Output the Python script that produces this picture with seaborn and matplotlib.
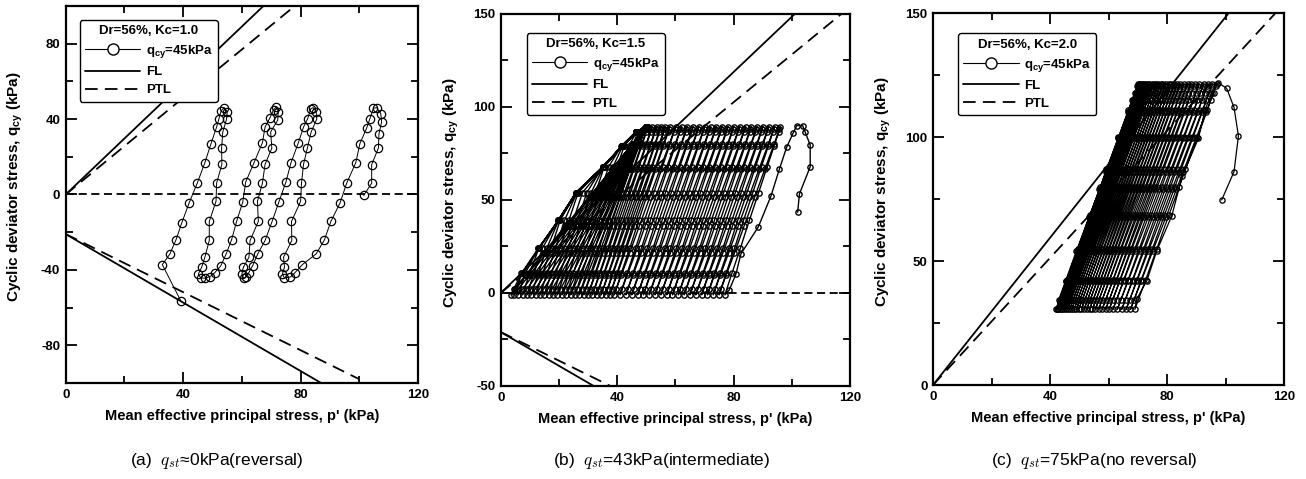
import matplotlib
matplotlib.use("Agg")
import matplotlib.pyplot as plt
import seaborn as sns
from matplotlib.lines import Line2D
from matplotlib.ticker import MultipleLocator
from matplotlib import font_manager

# ---------------- data ----------------
# reference lines (two end points each)
fl_up_p, fl_up_q = [0, 101], [0, 150]
ptl_up_p, ptl_up_q = [0, 117], [0, 150]
fl_lo_p, fl_lo_q = [0, 87], [-21, -100]
ptl_lo_p, ptl_lo_q = [0, 100], [-21, -98]

# panel (a): q_st = 0 kPa, stress path in time order
a_p = [101.5, 104.2, 104.2, 106.5, 106.7, 107.6, 107.3, 105.9,
       104.8, 103.6, 102.5, 100.2, 98.8, 95.7, 93.4, 90.3, 88.1, 85.3, 80.6, 78.0, 76.5, 74.5,
       73.8, 74.5, 74.2, 77.0, 76.9, 80.0, 80.3, 81.0, 82.3, 83.6, 85.5, 85.3, 84.3,
       83.5, 82.4, 81.0, 79.2, 76.7, 75.0, 72.6, 70.2, 67.9, 65.4, 63.7, 62.3, 61.5, 60.6,
       60.0, 60.5, 62.4, 62.8, 65.6, 65.3, 67.0, 67.9, 70.2, 69.8, 72.2, 72.4, 71.6,
       70.8, 69.6, 67.9, 67.0, 64.1, 61.3, 60.3, 58.2, 56.5, 54.6, 52.8, 50.7, 49.1, 47.4, 46.0,
       45.2, 46.3, 47.4, 48.9, 48.9, 51.2, 51.4, 53.2, 53.1, 53.5, 54.8, 55.0, 54.0,
       53.0, 52.2, 51.4, 49.5, 47.4, 44.8, 42.0, 39.5, 37.6, 35.5, 32.9, 39.2]
a_q = [-0.5, 6.0, 15.8, 24.7, 32.3, 38.5, 42.9, 46.1,
       45.7, 40.2, 35.3, 27.0, 16.9, 6.0, -4.6, -14.3, -24.1, -31.5, -37.2, -41.6, -43.8, -44.3,
       -42.2, -38.6, -33.3, -24.4, -14.3, -3.6, 6.0, 16.0, 24.6, 33.2, 40.0, 44.0, 46.1,
       45.5, 40.2, 35.8, 27.3, 16.7, 6.6, -4.0, -14.7, -24.4, -31.5, -37.7, -41.6, -43.6, -44.4,
       -42.2, -38.6, -33.3, -24.4, -14.3, -3.6, 6.0, 16.0, 24.6, 33.2, 39.4, 44.0, 46.3,
       45.0, 40.8, 35.8, 27.5, 16.7, 6.6, -4.0, -14.3, -24.0, -31.7, -37.9, -41.6, -43.6, -44.4, -44.3,
       -42.2, -38.6, -33.3, -24.4, -14.3, -3.6, 6.0, 16.0, 24.6, 33.2, 40.0, 44.0, 46.1,
       44.5, 40.2, 35.8, 27.0, 16.9, 6.0, -4.6, -15.2, -23.9, -31.5, -37.2, -56.4]

# panel (b): q_st = 43 kPa (first loading, then one row per cycle)
b_init_p = [102.0, 102.6, 106.3, 106.3, 104.5, 103.7, 101.7, 100.5, 98.2, 95.7, 92.8, 88.5, 82.5, 80.8, 78.5]
b_init_q = [43.4, 53.2, 67.9, 79.6, 86.7, 90.0, 90.0, 86.2, 78.3, 66.5, 52.0, 35.6, 21.0, 10.2, 1.6]
b_up_q = [-1, 10.5, 24, 39, 54, 68, 79, 86.5, 89.5]
b_dn_q = [88, 80, 66.5, 51.5, 36, 21.5, 9.5, 2]
b_up_p = [
    [77.0, 79.4, 82.3, 85.4, 88.6, 91.6, 93.9, 95.5, 96.1],
    [75.0, 77.4, 80.3, 83.4, 86.6, 89.6, 91.9, 93.5, 94.1],
    [73.0, 75.4, 78.3, 81.4, 84.6, 87.6, 89.9, 91.5, 92.1],
    [71.0, 73.4, 76.3, 79.4, 82.6, 85.6, 87.9, 89.5, 90.1],
    [69.0, 71.4, 74.3, 77.4, 80.6, 83.6, 85.9, 87.5, 88.1],
    [67.0, 69.4, 72.3, 75.4, 78.6, 81.6, 83.9, 85.5, 86.1],
    [65.0, 67.4, 70.3, 73.4, 76.6, 79.6, 81.9, 83.5, 84.1],
    [63.0, 65.4, 68.3, 71.4, 74.6, 77.6, 79.9, 81.5, 82.1],
    [61.0, 63.4, 66.3, 69.4, 72.6, 75.6, 77.9, 79.5, 80.1],
    [59.0, 61.4, 64.3, 67.4, 70.6, 73.6, 75.9, 77.5, 78.1],
    [57.0, 59.4, 62.3, 65.4, 68.6, 71.6, 73.9, 75.5, 76.1],
    [55.0, 57.4, 60.3, 63.4, 66.6, 69.6, 71.9, 73.5, 74.1],
    [53.0, 55.4, 58.3, 61.4, 64.6, 67.6, 69.9, 71.5, 72.1],
    [51.0, 53.4, 56.3, 59.4, 62.6, 65.6, 67.9, 69.5, 70.1],
    [49.0, 51.4, 54.3, 57.4, 60.6, 63.6, 65.9, 67.5, 68.1],
    [47.0, 49.4, 52.3, 55.4, 58.6, 61.6, 63.9, 65.5, 66.1],
    [45.0, 47.4, 50.3, 53.4, 56.6, 59.6, 61.9, 63.5, 64.1],
    [43.0, 45.4, 48.3, 51.4, 54.6, 57.6, 59.9, 61.5, 62.1],
    [41.0, 43.4, 46.3, 49.4, 52.6, 55.6, 57.9, 59.5, 60.1],
    [39.0, 41.4, 44.3, 47.4, 50.6, 53.6, 55.9, 57.5, 58.1],
    [37.5, 39.9, 42.8, 45.9, 49.1, 52.1, 54.4, 56.0, 56.6],
    [36.0, 38.4, 41.3, 44.4, 47.6, 50.6, 52.9, 54.5, 55.1],
    [34.5, 36.9, 39.8, 42.9, 46.1, 49.1, 51.4, 53.0, 53.6],
    [33.0, 35.4, 38.3, 41.4, 44.6, 47.6, 49.9, 51.5, 52.1],
    [31.5, 33.9, 36.8, 39.9, 43.1, 46.1, 48.4, 50.0, 50.6],
    [30.0, 32.4, 35.3, 38.4, 41.6, 44.6, 46.9, 48.5, 50.0],
    [28.5, 30.9, 33.8, 36.9, 40.1, 43.1, 45.4, 47.0, 49.8],
    [27.0, 29.4, 32.3, 35.4, 38.6, 41.6, 43.9, 46.7, 50.2],
    [25.5, 27.9, 30.8, 33.9, 37.1, 40.1, 42.4, 46.3, 49.9],
    [24.0, 26.4, 29.3, 32.4, 35.6, 38.6, 41.9, 46.6, 50.1],
    [22.5, 24.9, 27.8, 30.9, 34.1, 37.1, 41.5, 46.4, 49.8],
    [21.0, 23.4, 26.3, 29.4, 32.6, 35.6, 41.8, 46.7, 50.2],
    [19.5, 21.9, 24.8, 27.9, 31.1, 35.4, 41.4, 46.3, 49.9],
    [18.0, 20.4, 23.3, 26.4, 29.6, 35.1, 41.9, 46.6, 50.1],
    [16.5, 18.9, 21.8, 24.9, 28.1, 35.5, 41.6, 46.5, 49.8],
    [15.0, 17.4, 20.3, 23.4, 26.6, 35.2, 41.7, 46.4, 50.2],
    [13.5, 15.9, 18.8, 21.9, 26.2, 35.4, 41.5, 46.7, 49.9],
    [12.0, 14.4, 17.3, 20.4, 25.9, 35.1, 41.8, 46.3, 50.1],
    [10.5, 12.9, 15.8, 19.9, 26.1, 35.5, 41.6, 46.6, 49.8],
    [9.0, 11.4, 14.3, 19.7, 25.8, 35.2, 41.9, 46.4, 50.0],
    [7.5, 9.9, 13.1, 20.0, 26.2, 35.4, 41.5, 46.5, 50.2],
    [6.0, 8.4, 12.9, 19.8, 25.9, 35.3, 41.7, 46.6, 49.9],
    [4.5, 7.3, 13.2, 19.6, 26.1, 35.1, 41.6, 46.4, 50.1],
    [3.5, 7.1, 12.9, 19.9, 25.8, 35.4, 41.8, 46.5, 49.8],
]
b_dn_p = [
    [95.7, 93.9, 90.7, 87.2, 83.6, 80.3, 77.4, 75.7],
    [93.7, 91.9, 88.7, 85.2, 81.6, 78.3, 75.4, 73.7],
    [91.7, 89.9, 86.7, 83.2, 79.6, 76.3, 73.4, 71.7],
    [89.7, 87.9, 84.7, 81.2, 77.6, 74.3, 71.4, 69.7],
    [87.7, 85.9, 82.7, 79.2, 75.6, 72.3, 69.4, 67.7],
    [85.7, 83.9, 80.7, 77.2, 73.6, 70.3, 67.4, 65.7],
    [83.7, 81.9, 78.7, 75.2, 71.6, 68.3, 65.4, 63.7],
    [81.7, 79.9, 76.7, 73.2, 69.6, 66.3, 63.4, 61.7],
    [79.7, 77.9, 74.7, 71.2, 67.6, 64.3, 61.4, 59.7],
    [77.7, 75.9, 72.7, 69.2, 65.6, 62.3, 59.4, 57.7],
    [75.7, 73.9, 70.7, 67.2, 63.6, 60.3, 57.4, 55.7],
    [73.7, 71.9, 68.7, 65.2, 61.6, 58.3, 55.4, 53.7],
    [71.7, 69.9, 66.7, 63.2, 59.6, 56.3, 53.4, 51.7],
    [69.7, 67.9, 64.7, 61.2, 57.6, 54.3, 51.4, 49.7],
    [67.7, 65.9, 62.7, 59.2, 55.6, 52.3, 49.4, 47.7],
    [65.7, 63.9, 60.7, 57.2, 53.6, 50.3, 47.4, 45.7],
    [63.7, 61.9, 58.7, 55.2, 51.6, 48.3, 45.4, 43.7],
    [61.7, 59.9, 56.7, 53.2, 49.6, 46.3, 43.4, 41.7],
    [59.7, 57.9, 54.7, 51.2, 47.6, 44.3, 41.4, 39.7],
    [57.7, 55.9, 52.9, 49.4, 45.9, 42.6, 39.9, 38.2],
    [56.2, 54.4, 51.4, 47.9, 44.4, 41.1, 38.4, 36.7],
    [54.7, 52.9, 49.9, 46.4, 42.9, 39.6, 36.9, 35.2],
    [53.2, 51.4, 48.4, 44.9, 41.4, 38.1, 35.4, 33.7],
    [51.7, 49.9, 46.9, 43.4, 39.9, 36.6, 33.9, 32.2],
    [50.2, 48.4, 45.4, 41.9, 38.4, 35.1, 32.4, 30.7],
    [49.6, 47.7, 44.5, 41.0, 37.3, 33.9, 31.0, 29.2],
    [49.6, 47.6, 44.2, 40.3, 36.4, 32.7, 29.7, 27.8],
    [49.6, 47.4, 43.8, 39.7, 35.5, 31.6, 28.3, 26.3],
    [49.6, 47.3, 43.4, 39.1, 34.6, 30.5, 27.0, 24.9],
    [49.5, 47.1, 43.0, 38.5, 33.8, 29.4, 25.7, 23.4],
    [49.5, 47.0, 42.6, 37.8, 32.9, 28.2, 24.4, 22.0],
    [49.5, 46.8, 42.3, 37.2, 32.0, 27.1, 23.0, 20.5],
    [49.5, 46.6, 41.9, 36.6, 31.1, 26.0, 21.7, 19.1],
    [49.4, 46.5, 41.5, 35.9, 30.2, 24.8, 20.4, 17.6],
    [49.4, 46.3, 41.1, 35.3, 29.3, 23.7, 19.1, 16.2],
    [49.4, 46.2, 40.7, 34.7, 28.4, 22.6, 17.7, 14.7],
    [49.4, 46.0, 40.4, 34.0, 27.5, 21.5, 16.4, 13.3],
    [49.3, 45.9, 40.0, 33.4, 26.7, 20.3, 15.1, 11.8],
    [49.3, 45.7, 39.6, 32.8, 25.8, 19.2, 13.8, 10.4],
    [49.3, 45.5, 39.2, 32.2, 24.9, 18.1, 12.4, 8.9],
    [49.3, 45.4, 38.8, 31.5, 24.0, 17.0, 11.1, 7.5],
    [49.2, 45.2, 38.4, 30.9, 23.1, 15.8, 9.8, 6.0],
    [49.2, 45.1, 38.2, 30.5, 22.5, 15.1, 8.9, 5.0],
    [49.2, 45.1, 38.1, 30.3, 22.2, 14.7, 8.5, 4.6],
]

# panel (c): q_st = 75 kPa
c_init_p = [98.7, 102.9, 104.4, 102.9, 100.4, 97.5, 95.3, 93.0, 90.7, 85.2, 81.6, 76.5, 73.1, 69.6]
c_init_q = [74.7, 86.1, 100.5, 112.0, 119.7, 122.0, 118.0, 111.0, 99.5, 84.3, 68.2, 54.2, 42.1, 34.6]
c_up_q = [30.5, 42.5, 55, 68.5, 80, 87, 100, 111, 118, 121.5]
c_dn_q = [120.5, 115, 110, 99.5, 86, 79, 68, 54, 42, 34.5]
c_up_p = [
    [69.0, 72.7, 76.5, 80.6, 84.2, 86.3, 90.4, 93.8, 95.9, 97.0],
    [67.5, 71.2, 75.0, 79.1, 82.7, 84.8, 88.9, 92.3, 94.4, 95.5],
    [66.0, 69.7, 73.5, 77.6, 81.2, 83.3, 87.4, 90.8, 92.9, 94.0],
    [64.5, 68.2, 72.0, 76.1, 79.7, 81.8, 85.9, 89.3, 91.4, 92.5],
    [63.0, 66.7, 70.5, 74.6, 78.2, 80.3, 84.4, 87.8, 89.9, 91.0],
    [61.5, 65.2, 69.0, 73.1, 76.7, 78.8, 82.9, 86.3, 88.4, 89.5],
    [60.2, 63.9, 67.7, 71.8, 75.4, 77.5, 81.6, 85.0, 87.1, 88.2],
    [59.0, 62.7, 66.5, 70.6, 74.2, 76.3, 80.4, 83.8, 85.9, 87.0],
    [57.8, 61.5, 65.3, 69.4, 73.0, 75.1, 79.2, 82.6, 84.7, 85.8],
    [56.6, 60.3, 64.1, 68.2, 71.8, 73.9, 78.0, 81.4, 83.5, 84.6],
    [55.5, 59.2, 63.0, 67.1, 70.7, 72.8, 76.9, 80.3, 82.4, 83.5],
    [54.5, 58.2, 62.0, 66.1, 69.7, 71.8, 75.9, 79.3, 81.4, 82.5],
    [53.5, 57.2, 61.0, 65.1, 68.7, 70.8, 74.9, 78.3, 80.4, 81.5],
    [52.5, 56.2, 60.0, 64.1, 67.7, 69.8, 73.9, 77.3, 79.4, 80.5],
    [51.6, 55.3, 59.1, 63.2, 66.8, 68.9, 73.0, 76.4, 78.5, 79.6],
    [50.7, 54.4, 58.2, 62.3, 65.9, 68.0, 72.1, 75.5, 77.6, 78.7],
    [49.8, 53.5, 57.3, 61.4, 65.0, 67.1, 71.2, 74.6, 76.7, 77.8],
    [49.0, 52.7, 56.5, 60.6, 64.2, 66.3, 70.4, 73.8, 75.9, 77.0],
    [48.2, 51.9, 55.7, 59.8, 63.4, 65.5, 69.6, 73.0, 75.1, 76.2],
    [47.4, 51.1, 54.9, 59.0, 62.6, 64.7, 68.8, 72.2, 74.3, 75.4],
    [46.7, 50.4, 54.2, 58.3, 61.9, 64.0, 68.1, 71.5, 73.6, 74.7],
    [46.0, 49.7, 53.5, 57.6, 61.2, 63.3, 67.4, 70.8, 72.9, 74.0],
    [45.4, 49.1, 52.9, 57.0, 60.6, 62.7, 66.8, 70.2, 72.3, 73.4],
    [44.8, 48.5, 52.3, 56.4, 60.0, 62.1, 66.2, 69.6, 71.7, 72.8],
    [44.2, 47.9, 51.7, 55.8, 59.4, 61.5, 65.6, 69.0, 71.1, 72.2],
    [43.7, 47.4, 51.2, 55.3, 58.9, 61.0, 65.1, 68.5, 70.6, 71.7],
    [43.2, 46.9, 50.7, 54.8, 58.4, 60.5, 64.6, 68.0, 70.1, 71.2],
    [42.8, 46.5, 50.3, 54.4, 58.0, 60.1, 64.2, 67.6, 69.7, 70.8],
    [42.4, 46.1, 49.9, 54.0, 57.6, 59.7, 63.8, 67.2, 69.3, 70.4],
    [42.0, 45.7, 49.5, 53.6, 57.2, 59.3, 63.4, 66.8, 68.9, 70.0],
]
c_dn_p = [
    [96.7, 94.9, 93.3, 89.9, 85.5, 83.2, 79.7, 75.1, 71.2, 68.8],
    [95.2, 93.4, 91.8, 88.4, 84.0, 81.7, 78.2, 73.6, 69.7, 67.3],
    [93.7, 91.9, 90.3, 86.9, 82.5, 80.2, 76.7, 72.1, 68.2, 65.8],
    [92.2, 90.4, 88.8, 85.4, 81.0, 78.7, 75.2, 70.6, 66.7, 64.3],
    [90.7, 88.9, 87.3, 83.9, 79.5, 77.2, 73.7, 69.1, 65.2, 62.8],
    [89.1, 87.3, 85.7, 82.3, 78.0, 75.8, 72.2, 67.7, 63.9, 61.5],
    [87.9, 86.1, 84.5, 81.1, 76.8, 74.6, 71.0, 66.5, 62.7, 60.3],
    [86.7, 84.9, 83.3, 79.9, 75.6, 73.4, 69.8, 65.3, 61.5, 59.1],
    [85.5, 83.7, 82.1, 78.7, 74.4, 72.2, 68.6, 64.1, 60.3, 57.9],
    [84.2, 82.4, 80.8, 77.5, 73.2, 71.0, 67.4, 63.0, 59.2, 56.8],
    [83.2, 81.4, 79.8, 76.5, 72.2, 70.0, 66.4, 62.0, 58.2, 55.8],
    [82.2, 80.4, 78.8, 75.5, 71.2, 69.0, 65.4, 61.0, 57.2, 54.8],
    [81.2, 79.4, 77.8, 74.5, 70.2, 68.0, 64.4, 60.0, 56.2, 53.8],
    [80.1, 78.4, 76.8, 73.5, 69.2, 67.0, 63.5, 59.0, 55.2, 52.9],
    [79.2, 77.5, 75.9, 72.6, 68.3, 66.1, 62.6, 58.1, 54.3, 52.0],
    [78.3, 76.6, 75.0, 71.7, 67.4, 65.2, 61.7, 57.2, 53.4, 51.1],
    [77.5, 75.8, 74.2, 70.9, 66.6, 64.4, 60.9, 56.4, 52.6, 50.3],
    [76.7, 75.0, 73.4, 70.1, 65.8, 63.6, 60.1, 55.6, 51.8, 49.5],
    [75.9, 74.2, 72.6, 69.3, 65.0, 62.8, 59.3, 54.8, 51.0, 48.7],
    [75.0, 73.3, 71.7, 68.4, 64.2, 62.0, 58.5, 54.1, 50.3, 48.0],
    [74.3, 72.6, 71.0, 67.7, 63.5, 61.3, 57.8, 53.4, 49.6, 47.3],
    [73.7, 72.0, 70.4, 67.1, 62.9, 60.7, 57.2, 52.8, 49.0, 46.7],
    [73.1, 71.4, 69.8, 66.5, 62.3, 60.1, 56.6, 52.2, 48.4, 46.1],
    [72.5, 70.8, 69.2, 65.9, 61.7, 59.5, 56.0, 51.6, 47.8, 45.5],
    [71.9, 70.1, 68.6, 65.3, 61.1, 58.9, 55.4, 51.0, 47.3, 45.0],
    [71.4, 69.6, 68.1, 64.8, 60.6, 58.4, 54.9, 50.5, 46.8, 44.5],
    [71.0, 69.2, 67.7, 64.4, 60.2, 58.0, 54.5, 50.1, 46.4, 44.1],
    [70.6, 68.8, 67.3, 64.0, 59.8, 57.6, 54.1, 49.7, 46.0, 43.7],
    [70.2, 68.4, 66.9, 63.6, 59.4, 57.2, 53.7, 49.3, 45.6, 43.3],
    [69.9, 68.1, 66.6, 63.3, 59.1, 56.9, 53.4, 49.0, 45.3, 43.0],
]

legend_titles = ["Dr=56%, Kc=1.0", "Dr=56%, Kc=1.5", "Dr=56%, Kc=2.0"]
legend_labels = [r"q$_{\mathbf{cy}}$=45kPa", "FL", "PTL"]
captions = ["(a)  $q_{st}$≈0kPa(reversal)",
            "(b)  $q_{st}$=43kPa(intermediate)",
            "(c)  $q_{st}$=75kPa(no reversal)"]
xlabel = "Mean effective principal stress, p' (kPa)"
ylabel = r"Cyclic deviator stress, q$_{\mathbf{cy}}$ (kPa)"

# ---------------- style ----------------
sns.set_theme(style="ticks")
names = {f.name for f in font_manager.fontManager.ttflist}
FONT = "Liberation Sans" if "Liberation Sans" in names else "DejaVu Sans"
plt.rcParams.update({
    "font.family": [FONT, "DejaVu Sans"],
    "font.weight": "bold",
    "mathtext.fontset": "custom",
    "mathtext.rm": FONT,
    "mathtext.bf": FONT + ":bold",
    "mathtext.it": FONT + ":italic",
    "axes.edgecolor": "black",
    "axes.labelcolor": "black",
    "text.color": "black",
    "xtick.color": "black",
    "ytick.color": "black",
    "axes.unicode_minus": False,
})


def assemble(init_p, init_q, up_q, dn_q, up_p, dn_p):
    P, Q = list(init_p), list(init_q)
    for u, d in zip(up_p, dn_p):
        P += u
        Q += up_q
        P += d
        Q += dn_q
    return P, Q


b_p, b_q = assemble(b_init_p, b_init_q, b_up_q, b_dn_q, b_up_p, b_dn_p)
c_p, c_q = assemble(c_init_p, c_init_q, c_up_q, c_dn_q, c_up_p, c_dn_p)

fig = plt.figure(figsize=(13.06, 4.79), dpi=100)
positions = [[0.0503, 0.2004, 0.2698, 0.7871],
             [0.3834, 0.1942, 0.2675, 0.7766],
             [0.7144, 0.1962, 0.2688, 0.7760]]
ylims = [(-100, 100), (-50, 150), (0, 150)]
ymaj = [40, 50, 50]
ymin = [20, 25, 25]
leg_anchor = [(0.040, 0.963), (0.074, 0.949), (0.071, 0.946)]
cap_x = [0.166, 0.5065, 0.8377]
series = [(a_p, a_q, 6.0, 0.9, 0.7), (b_p, b_q, 3.8, 1.0, 1.0), (c_p, c_q, 3.8, 0.95, 0.9)]

ptl_dash = (0, (7.0, 4.0))
zero_dash = (0, (4.5, 2.5))

for i in range(3):
    ax = fig.add_axes(positions[i])
    p, q, ms, mew, lw = series[i]
    if i < 2:
        ax.axhline(0, color="black", lw=1.3, ls=zero_dash, zorder=1)
    sns.lineplot(x=p, y=q, sort=False, estimator=None, ax=ax, color="black",
                 linewidth=lw, marker="o", markersize=ms, markerfacecolor="none",
                 markeredgecolor="black", markeredgewidth=mew, legend=False, zorder=3)
    sns.lineplot(x=fl_up_p, y=fl_up_q, sort=False, estimator=None, ax=ax, color="black",
                 linewidth=1.3, legend=False, zorder=2)
    sns.lineplot(x=ptl_up_p, y=ptl_up_q, sort=False, estimator=None, ax=ax, color="black",
                 linewidth=1.3, linestyle=ptl_dash, legend=False, zorder=2)
    sns.lineplot(x=fl_lo_p, y=fl_lo_q, sort=False, estimator=None, ax=ax, color="black",
                 linewidth=1.3, legend=False, zorder=2)
    sns.lineplot(x=ptl_lo_p, y=ptl_lo_q, sort=False, estimator=None, ax=ax, color="black",
                 linewidth=1.3, linestyle=ptl_dash, legend=False, zorder=2)

    ax.set_xlim(0, 120)
    ax.set_ylim(*ylims[i])
    ax.xaxis.set_major_locator(MultipleLocator(40))
    ax.xaxis.set_minor_locator(MultipleLocator(20))
    ax.yaxis.set_major_locator(MultipleLocator(ymaj[i]))
    ax.yaxis.set_minor_locator(MultipleLocator(ymin[i]))
    ax.tick_params(which="both", direction="in", top=True, right=True, width=1.3,
                   labelsize=9.5, pad=4)
    ax.tick_params(which="major", length=8)
    ax.tick_params(which="minor", length=5)
    for s in ax.spines.values():
        s.set_linewidth(1.6)
        s.set_color("black")
    for lbl in ax.get_xticklabels() + ax.get_yticklabels():
        lbl.set_fontweight("bold")
    ax.set_xlabel(xlabel, fontsize=10.5, fontweight="bold", labelpad=6)
    ax.set_ylabel(ylabel, fontsize=11, fontweight="bold")
    ax.yaxis.set_label_coords(-0.115, 0.52)

    handles = [Line2D([], [], color="black", lw=0.8, marker="o", ms=8, mfc="white",
                      mec="black", mew=1.0),
               Line2D([], [], color="black", lw=1.3),
               Line2D([], [], color="black", lw=1.3, ls=ptl_dash)]
    leg = ax.legend(handles, legend_labels, title=legend_titles[i], loc="upper left",
                    bbox_to_anchor=leg_anchor[i], borderaxespad=0, frameon=True,
                    fancybox=True, edgecolor="black", framealpha=1, handlelength=4.2,
                    numpoints=1, prop={"weight": "bold", "size": 9.5},
                    title_fontproperties={"weight": "bold", "size": 9.5},
                    labelspacing=0.45, handletextpad=0.4, borderpad=0.4)
    leg.get_frame().set_linewidth(1.0)
    leg.set_zorder(5)

    fig.text(cap_x[i], 0.038, captions[i], ha="center", va="center", fontsize=12.5,
             fontweight="normal", math_fontfamily="cm")

fig.savefig("out.png", dpi=100, facecolor="white")
